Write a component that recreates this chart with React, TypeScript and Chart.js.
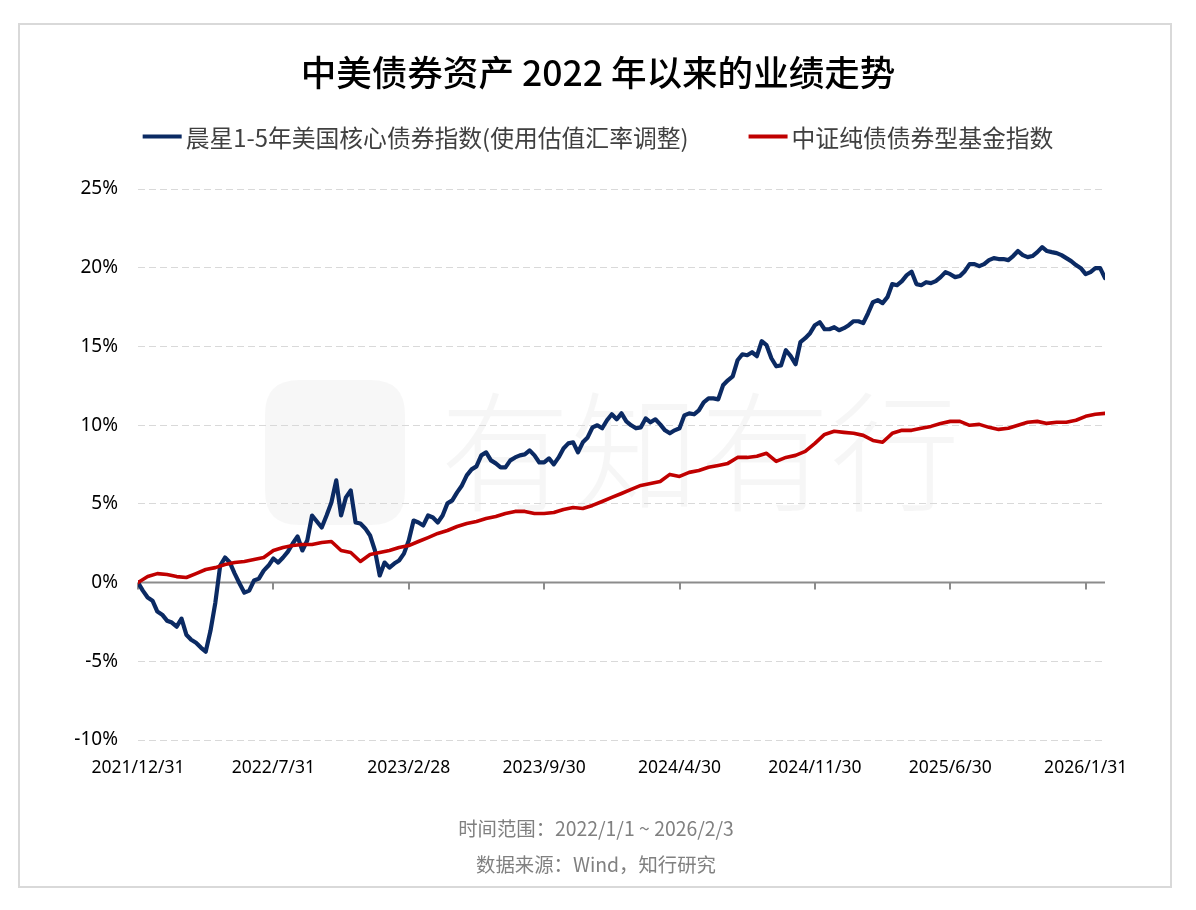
import React, { useEffect, useRef } from "react";
import { Chart, registerables } from "chart.js";

Chart.register(...registerables);

// ---------------- data ----------------
const TITLE = "中美债券资产 2022 年以来的业绩走势";
const SERIES_NAMES = ["晨星1-5年美国核心债券指数(使用估值汇率调整)", "中证纯债债券型基金指数"];
const SERIES_COLORS = ["#0b2a63", "#c00000"];
const X_TICK_LABELS = ["2021/12/31", "2022/7/31", "2023/2/28", "2023/9/30", "2024/4/30", "2024/11/30", "2025/6/30", "2026/1/31"];
const X_TICK_DAYS = [0, 140, 280, 420, 560, 700, 840, 980]; // trading-day index
const TOTAL_DAYS = 1000;
const Y_MIN = -10;
const Y_MAX = 25;
const Y_STEP = 5;
const FOOTNOTES = ["时间范围：2022/1/1 ~ 2026/2/3", "数据来源：Wind，知行研究"];
const WATERMARK = "有知有行";

// 晨星1-5年美国核心债券指数 cumulative return (%), sampled every 5 trading days
const US_STEP = 5;
const US_BOND = [
  0, -0.51, -0.95, -1.15, -1.84, -2.04, -2.42, -2.54, -2.80, -2.29,
  -3.31, -3.63, -3.82, -4.13, -4.39, -3.05, -1.27, 1.08, 1.59, 1.27,
  0.57, -0.06, -0.64, -0.51, 0.13, 0.25, 0.76, 1.08, 1.53, 1.27,
  1.59, 1.97, 2.48, 2.93, 2.04, 2.67, 4.26, 3.88, 3.50, 4.26,
  5.09, 6.49, 4.26, 5.41, 5.85, 3.82, 3.75, 3.44, 2.99, 2.04,
  0.45, 1.27, 0.95, 1.21, 1.40, 1.84, 2.67, 3.94, 3.82, 3.63,
  4.26, 4.13, 3.82, 4.26, 5.03, 5.22, 5.73, 6.17, 6.81, 7.19,
  7.38, 8.08, 8.27, 7.76, 7.57, 7.32, 7.32, 7.76, 7.95, 8.08,
  8.14, 8.40, 8.08, 7.63, 7.63, 7.89, 7.51, 7.95, 8.52, 8.84,
  8.91, 8.27, 8.91, 9.22, 9.86, 9.99, 9.80, 10.31, 10.69, 10.37,
  10.75, 10.24, 9.99, 9.80, 9.86, 10.43, 10.18, 10.37, 10.05, 9.67,
  9.48, 9.67, 9.80, 10.62, 10.75, 10.69, 10.94, 11.45, 11.70, 11.70,
  11.64, 12.53, 12.85, 13.10, 14.12, 14.50, 14.44, 14.63, 14.38, 15.33,
  15.08, 14.25, 13.74, 13.80, 14.76, 14.38, 13.87, 15.27, 15.52, 15.84,
  16.35, 16.54, 16.09, 16.09, 16.22, 16.03, 16.16, 16.35, 16.60, 16.60,
  16.48, 17.11, 17.81, 17.94, 17.75, 18.13, 18.96, 18.89, 19.15, 19.53,
  19.75, 18.96, 18.89, 19.08, 19.02, 19.15, 19.40, 19.72, 19.59, 19.40,
  19.47, 19.78, 20.23, 20.23, 20.10, 20.23, 20.48, 20.61, 20.55, 20.55,
  20.48, 20.74, 21.06, 20.80, 20.67, 20.74, 20.99, 21.31, 21.06, 20.99,
  20.93, 20.80, 20.61, 20.42, 20.17, 19.97, 19.59, 19.72, 19.97, 19.97,
  19.34,
];

// 中证纯债债券型基金指数 cumulative return (%), sampled every 10 trading days
const CN_STEP = 10;
const CN_BOND = [
  0, 0.38, 0.57, 0.51, 0.38, 0.32, 0.57, 0.83, 0.95, 1.15,
  1.27, 1.34, 1.46, 1.59, 2.04, 2.23, 2.35, 2.42, 2.42, 2.54,
  2.61, 2.04, 1.91, 1.34, 1.78, 1.91, 2.04, 2.23, 2.35, 2.61,
  2.86, 3.12, 3.31, 3.56, 3.75, 3.88, 4.07, 4.20, 4.39, 4.52,
  4.52, 4.39, 4.39, 4.45, 4.64, 4.77, 4.71, 4.90, 5.15, 5.41,
  5.66, 5.92, 6.17, 6.30, 6.42, 6.87, 6.74, 7.00, 7.12, 7.32,
  7.44, 7.57, 7.95, 7.95, 8.02, 8.21, 7.70, 7.95, 8.08, 8.33,
  8.84, 9.41, 9.61, 9.54, 9.48, 9.35, 9.03, 8.91, 9.48, 9.67,
  9.67, 9.80, 9.92, 10.11, 10.24, 10.24, 9.99, 10.05, 9.86, 9.73,
  9.80, 9.99, 10.18, 10.24, 10.11, 10.18, 10.18, 10.31, 10.56, 10.69,
  10.75,
];

// ---------------- styling ----------------
const CJK = '"Noto Sans CJK SC", "Noto Sans", sans-serif';
const LATIN = '"Noto Sans", "Noto Sans CJK SC", sans-serif';

function fitSize(ctx: CanvasRenderingContext2D, text: string, weight: string, family: string, base: number, target: number) {
  ctx.font = `${weight} ${base}px ${family}`;
  const w = ctx.measureText(text).width;
  return w > 0 ? (base * target) / w : base;
}

const decorPlugin = {
  id: "decor",
  beforeDraw(chart: any) {
    const ctx: CanvasRenderingContext2D = chart.ctx;
    ctx.save();
    // frame
    ctx.strokeStyle = "#d9d9d9";
    ctx.lineWidth = 2;
    ctx.strokeRect(19, 24, 1152, 863);
    // watermark
    ctx.fillStyle = "rgba(0,0,0,0.03)";
    const lx = 265, ly = 380, lw = 140, lh = 145, r = 34;
    ctx.beginPath();
    ctx.moveTo(lx + r, ly);
    ctx.lineTo(lx + lw - r, ly);
    ctx.quadraticCurveTo(lx + lw, ly, lx + lw, ly + r);
    ctx.lineTo(lx + lw, ly + lh - r);
    ctx.quadraticCurveTo(lx + lw, ly + lh, lx + lw - r, ly + lh);
    ctx.lineTo(lx + r, ly + lh);
    ctx.quadraticCurveTo(lx, ly + lh, lx, ly + lh - r);
    ctx.lineTo(lx, ly + r);
    ctx.quadraticCurveTo(lx, ly, lx + r, ly);
    ctx.closePath();
    ctx.fill();
    const ws = fitSize(ctx, WATERMARK, "300", CJK, 120, 520);
    ctx.font = `300 ${ws}px ${CJK}`;
    ctx.textAlign = "left";
    ctx.textBaseline = "middle";
    ctx.fillStyle = "rgba(0,0,0,0.035)";
    ctx.fillText(WATERMARK, 440, 452);
    ctx.restore();
  },
  beforeDatasetsDraw(chart: any) {
    const ctx: CanvasRenderingContext2D = chart.ctx;
    const { chartArea, scales } = chart;
    const y0 = scales.y.getPixelForValue(0);
    ctx.save();
    ctx.strokeStyle = "#8c8c8c";
    ctx.lineWidth = 2;
    ctx.beginPath();
    ctx.moveTo(chartArea.left, y0);
    ctx.lineTo(chartArea.right, y0);
    X_TICK_DAYS.forEach((d) => {
      const px = Math.round(scales.x.getPixelForValue(d));
      ctx.moveTo(px, y0);
      ctx.lineTo(px, y0 + 7);
    });
    ctx.stroke();
    ctx.restore();
  },
  afterDraw(chart: any) {
    const ctx: CanvasRenderingContext2D = chart.ctx;
    ctx.save();
    // title
    const ts = fitSize(ctx, TITLE, "500", CJK, 34, 595);
    ctx.font = `500 ${ts}px ${CJK}`;
    ctx.fillStyle = "#000000";
    ctx.textAlign = "center";
    ctx.textBaseline = "middle";
    ctx.fillText(TITLE, 598, 72);

    // legend
    const ls = fitSize(ctx, SERIES_NAMES[0], "400", CJK, 23, 503);
    ctx.font = `400 ${ls}px ${CJK}`;
    const sample = 39, gap = 4, between = 60;
    const w0 = ctx.measureText(SERIES_NAMES[0]).width;
    const w1 = ctx.measureText(SERIES_NAMES[1]).width;
    const total = sample + gap + w0 + between + sample + gap + w1;
    let x = 598 - total / 2;
    const ly = 136.5;
    ctx.textAlign = "left";
    ctx.textBaseline = "middle";
    [w0, w1].forEach((w, i) => {
      ctx.strokeStyle = SERIES_COLORS[i];
      ctx.lineWidth = 4;
      ctx.beginPath();
      ctx.moveTo(x, ly);
      ctx.lineTo(x + sample, ly);
      ctx.stroke();
      ctx.fillStyle = "#404040";
      ctx.fillText(SERIES_NAMES[i], x + sample + gap, ly + 1);
      x += sample + gap + w + between;
    });

    // footnotes
    const fs = fitSize(ctx, FOOTNOTES[0], "400", CJK, 17, 276);
    ctx.font = `400 ${fs}px ${CJK}`;
    ctx.fillStyle = "#808080";
    ctx.textAlign = "center";
    ctx.fillText(FOOTNOTES[0], 596, 829);
    ctx.fillText(FOOTNOTES[1], 596, 865);
    ctx.restore();
  },
};

export default function App() {
  const canvasRef = useRef<HTMLCanvasElement | null>(null);

  useEffect(() => {
    const canvas = canvasRef.current;
    if (!canvas) return;
    const chart = new Chart(canvas, {
      type: "line",
      data: {
        datasets: [
          {
            label: SERIES_NAMES[0],
            data: US_BOND.map((v, i) => ({ x: i * US_STEP, y: v })),
            borderColor: SERIES_COLORS[0],
            backgroundColor: SERIES_COLORS[0],
            borderWidth: 4.2,
            pointRadius: 0,
            tension: 0,
            borderJoinStyle: "round",
            borderCapStyle: "round",
            order: 1,
          },
          {
            label: SERIES_NAMES[1],
            data: CN_BOND.map((v, i) => ({ x: i * CN_STEP, y: v })),
            borderColor: SERIES_COLORS[1],
            backgroundColor: SERIES_COLORS[1],
            borderWidth: 3.6,
            pointRadius: 0,
            tension: 0,
            borderJoinStyle: "round",
            borderCapStyle: "round",
            order: 0,
          },
        ],
      },
      options: {
        responsive: false,
        animation: false,
        devicePixelRatio: 1,
        layout: { padding: { left: 20, right: 91, top: 189, bottom: 113 } },
        plugins: {
          legend: { display: false },
          title: { display: false },
          tooltip: { enabled: false },
        },
        scales: {
          x: {
            type: "linear",
            min: 0,
            max: TOTAL_DAYS,
            afterBuildTicks: (scale: any) => {
              scale.ticks = X_TICK_DAYS.map((v) => ({ value: v }));
            },
            grid: { display: false, drawTicks: false },
            border: { display: false },
            ticks: {
              autoSkip: false,
              maxRotation: 0,
              padding: 18,
              color: "#000000",
              font: { family: LATIN, size: 17.5 },
              callback: (_v: any, i: number) => X_TICK_LABELS[i],
            },
          },
          y: {
            min: Y_MIN,
            max: Y_MAX,
            afterFit: (scale: any) => {
              scale.width = 118;
            },
            grid: {
              drawTicks: false,
              lineWidth: 1,
              color: (c: any) => (c.tick && c.tick.value === 0 ? "rgba(0,0,0,0)" : "#d9d9d9"),
            },
            border: { display: false, dash: [7, 4] },
            ticks: {
              stepSize: Y_STEP,
              padding: 20,
              color: "#000000",
              font: { family: LATIN, size: 19 },
              callback: (v: any) => `${v}%`,
            },
          },
        },
      },
      plugins: [decorPlugin],
    } as any);
    return () => chart.destroy();
  }, []);

  return (
    <div style={{ position: "absolute", left: 0, top: 0, width: 1196, height: 910, background: "#ffffff" }}>
      <canvas ref={canvasRef} width={1196} height={910} style={{ display: "block", width: 1196, height: 910 }} />
    </div>
  );
}
